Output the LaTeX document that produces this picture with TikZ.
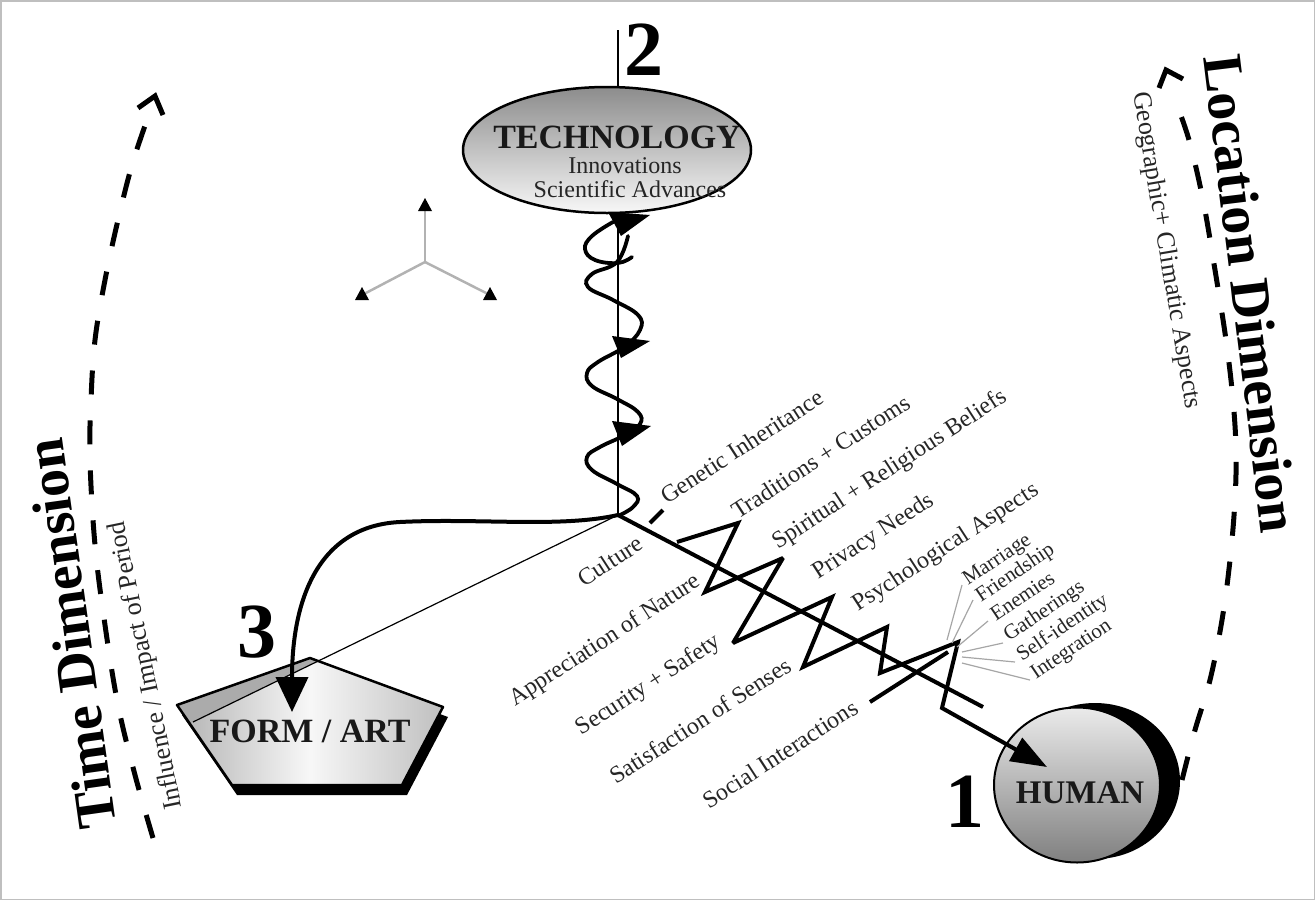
\documentclass[tikz,border=0pt]{standalone}
\usepackage{fontspec}
\setmainfont{Liberation Serif}
\usetikzlibrary{shapes.geometric, arrows.meta}
\begin{document}
\begin{tikzpicture}[x=1pt,y=-1pt,
  lbl/.style={font=\fontsize{24}{26}\selectfont, text=black!85, inner sep=0pt, rotate=33},
  slbl/.style={font=\fontsize{21}{23}\selectfont, text=black!85, inner sep=0pt, rotate=34},
  thickline/.style={line width=4pt},
  thinline/.style={line width=1.2pt},
  helixline/.style={line width=3.8pt, line cap=round},
  num/.style={font=\bfseries\fontsize{78}{80}\selectfont, inner sep=0pt, anchor=base},
  dimline/.style={line width=5pt, dash pattern=on 24pt off 26pt},
  dimhead/.style={line width=5pt, line join=miter},
  dimtext/.style={font=\bfseries\fontsize{56}{58}\selectfont, inner sep=0pt},
  subtext/.style={font=\fontsize{26}{28}\selectfont, text=black!85, inner sep=0pt},
  greyray/.style={black!35, line width=1.2pt},
  axisline/.style={black!30, line width=2.5pt},
]
\useasboundingbox (0,0) rectangle (1315,900);
\draw[black!25, line width=1.5pt] (0.75,0.75) rectangle (1314.25,899.25);

% ---------- key coordinates
\coordinate (C) at (618,515);
\coordinate (top) at (618,30);
\coordinate (formtip) at (292,712);
\coordinate (htip) at (1047,767);
\coordinate (formleft) at (193,722);
\coordinate (ttip) at (155,96);
\coordinate (ltip) at (1166,70);

% ---------- time dimension
\draw[dimline]
  plot[smooth, tension=0.6] coordinates {(153,838) (135,775) (118,705) (105,625) (95,545) (90,460) (91,400) (95,340) (105,280) (118,220) (132,165) (147,120)};
\draw[dimhead] (138,108) -- (ttip) -- (163,115);
\node[dimtext, rotate=98, anchor=base west] (timedim) at (117,826) {Time Dimension};
\node[subtext, rotate=101.5, anchor=base west] (timesub) at (182,808) {Influence / Impact of Period};

% ---------- location dimension
\draw[dimline]
  plot[smooth, tension=0.6] coordinates {(1182,780) (1195,730) (1210,680) (1222,620) (1230,560) (1235,500) (1236,450) (1233,400) (1226,340) (1215,270) (1203,200) (1189,140) (1175,100)};
\draw[dimhead] (1183,79) -- (ltip) -- (1159,88);
\node[dimtext, rotate=-83, anchor=base west] (locdim) at (1203,57) {Location Dimension};
\node[subtext, rotate=-80.5, anchor=base west] (locsub) at (1133,93) {Geographic+ Climatic Aspects};

% ---------- axis symbol
\coordinate (ax) at (425,262);
\draw[axisline] (ax) -- (425,208);
\draw[axisline] (ax) -- (364,294);
\draw[axisline] (ax) -- (488,294);
\fill (425,198) -- (418,211) -- (432,211) -- cycle;
\fill (362,287) -- (355,300) -- (369,300) -- cycle;
\fill (490,287) -- (483,300) -- (497,300) -- cycle;

% ---------- technology
\draw[thinline] (top) -- (C);
\node[ellipse, draw, line width=2.5pt, top color=black!45, bottom color=black!3,
      minimum width=288pt, minimum height=126pt, inner sep=0pt] (tech) at (607,150) {};
\node[font=\bfseries\fontsize{34}{36}\selectfont, anchor=base, inner sep=0pt, text=black!90] (techt) at (617,148) {TECHNOLOGY};
\node[font=\fontsize{24}{26}\selectfont, anchor=base, inner sep=0pt, text=black!85] (techa) at (625,173) {Innovations};
\node[font=\fontsize{24}{26}\selectfont, anchor=base, inner sep=0pt, text=black!85] (techb) at (630,197) {Scientific Advances};
\node[num] (two) at (644,75) {2};

% helix
\draw[helixline] plot[smooth, tension=0.7] coordinates {(613,222) (592,236) (585,249) (595,260) (618,263) (632,257)};
\draw[helixline] plot[smooth, tension=0.7] coordinates {(628,236) (617,262) (592,274) (588,287) (613,300) (638,315) (640,330) (624,347) (598,362) (587,373) (592,386) (617,399) (638,412) (640,424) (625,435) (600,447) (587,457) (592,470) (617,484) (637,496) (633,507) (620,515)};
\fill (608,212) -- (650,215) -- (621,236) -- cycle;
\fill (612,336) -- (650,341) -- (621,358) -- cycle;
\fill (612,421) -- (651,426) -- (622,446) -- cycle;

% ---------- form / art
\fill[black] (315,668) -- (448,717) -- (407,795) -- (237,795) -- (182,715) -- cycle;
\path[left color=black!30, right color=black!25, middle color=black!3]
  (310,658) -- (443,707) -- (402,785) -- (232,785) -- (177,705) -- cycle;
\begin{scope}
  \clip (310,658) -- (443,707) -- (402,785) -- (232,785) -- (177,705) -- cycle;
  \fill[black!33] (150,743) -- (C) -- (618,400) -- (150,400) -- cycle;
\end{scope}
\draw[line width=2.5pt, line join=round] (310,658) -- (443,707) -- (402,785) -- (232,785) -- (177,705) -- cycle;
\node[font=\bfseries\fontsize{34}{36}\selectfont, inner sep=0pt, text=black!90] (form) at (310,731) {FORM / ART};
\draw[thinline] (C) -- (formleft);
\node[num] (three) at (257,657) {3};
\draw[thickline, -{Triangle[length=35pt, width=32pt]}]
  (C) .. controls (560,528) and (480,518) .. (400,522)
      .. controls (318,526) and (292,600) .. (formtip);

% ---------- human
\node[ellipse, fill=black, minimum width=170pt, minimum height=156pt, inner sep=0pt] (hshadow) at (1095,781) {};
\node[ellipse, draw, line width=2pt, top color=black!8, bottom color=black!50,
      minimum width=166pt, minimum height=155pt, inner sep=0pt] (human) at (1077,785) {};
\node[font=\bfseries\fontsize{33}{35}\selectfont, inner sep=0pt, text=black!90] (humant) at (1080,793) {HUMAN};
\node[num] (one) at (965,827) {1};

% ---------- culture axis
\draw[thickline] (C) -- (983,707);
\draw[thickline] (650,523) -- (663,510);
\draw[thickline] (870,702) -- (948,652);
\draw[thickline, line join=miter, miter limit=3, -{Triangle[length=36pt, width=26pt]}]
  (677,542) -- (738,523) -- (705,592) -- (783,558) -- (733,643) -- (832,597)
  -- (803,667) -- (887,627) -- (880,673) -- (958,642) -- (942,708) -- (htip);

% labels above the axis
\node[lbl, anchor=base west] (l1) at (667,505) {Genetic Inheritance};
\node[lbl, anchor=base west] (l2) at (738,520) {Traditions + Customs};
\node[lbl, anchor=base west] (l3) at (778,550) {Spiritual + Religious Beliefs};
\node[lbl, anchor=base west] (l4) at (818,580) {Privacy Needs};
\node[lbl, anchor=base west] (l5) at (858,612) {Psychological Aspects};
% labels below the axis
\node[lbl, anchor=base east] (r1) at (645,548) {Culture};
\node[lbl, anchor=base east] (r2) at (702,585) {Appreciation of Nature};
\node[lbl, anchor=base east] (r3) at (722,645) {Security + Safety};
\node[lbl, anchor=base east] (r4) at (793,670) {Satisfaction of Senses};
\node[lbl, anchor=base east] (r5) at (860,712) {Social Interactions};

% social sub labels
\draw[greyray] (947,640) -- (962,585);
\draw[greyray] (952,643) -- (973,600);
\draw[greyray] (957,647) -- (988,621);
\draw[greyray] (962,652) -- (1003,643);
\draw[greyray] (962,657) -- (1015,662);
\draw[greyray] (962,663) -- (1030,680);
\node[slbl, anchor=base west] (s1) at (968,586) {Marriage};
\node[slbl, anchor=base west] (s2) at (981,603) {Friendship};
\node[slbl, anchor=base west] (s3) at (996,622) {Enemies};
\node[slbl, anchor=base west] (s4) at (1009,642) {Gatherings};
\node[slbl, anchor=base west] (s5) at (1022,662) {Self-identity};
\node[slbl, anchor=base west] (s6) at (1036,680) {Integration};
\end{tikzpicture}
\end{document}
